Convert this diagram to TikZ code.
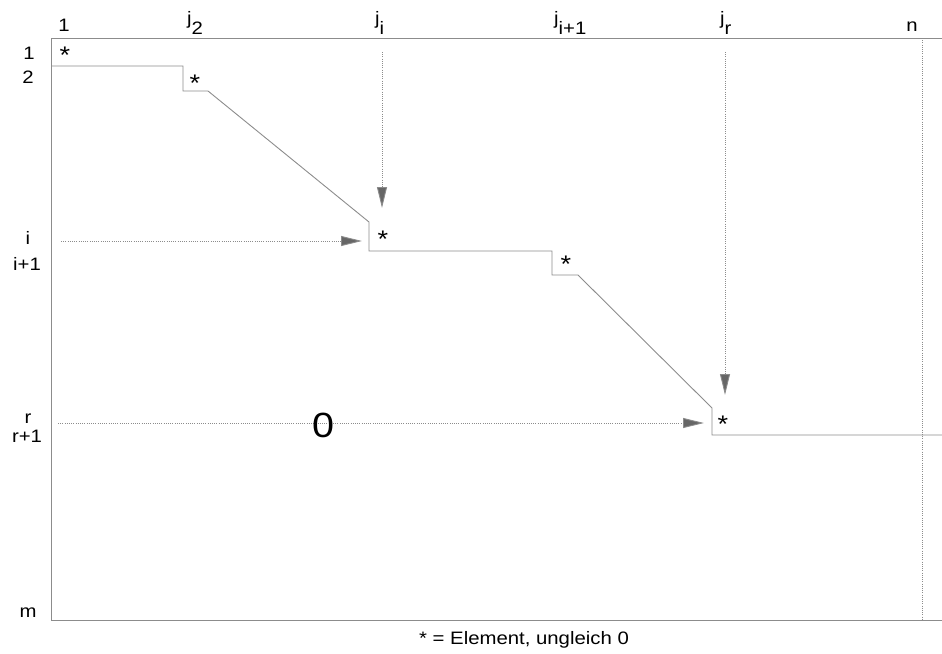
\documentclass[tikz,border=0pt]{standalone}
\usepackage{fontspec}
\setmainfont{Liberation Sans}[FakeStretch=1.13]
\usetikzlibrary{arrows.meta}
\newcommand{\idx}[2]{#1\raisebox{-9.5pt}{#2}}

\begin{document}
\begin{tikzpicture}[
  x=1pt, y=-1pt,
  frame/.style={draw=black!45, line width=0.9pt},
  dots/.style={draw=black!45, line width=0.9pt, dash pattern=on 1pt off 1.2pt},
  arr/.style={dots, -{Triangle[length=21pt,width=10pt,fill=black!60]}},
  lbl/.style={inner sep=0pt, anchor=base, font=\fontsize{18}{18}\selectfont},
  ast/.style={inner sep=0pt, anchor=base, font=\fontsize{24}{24}\selectfont}
]
  \useasboundingbox (0,0) rectangle (942,653);

  % frame of the matrix
  \coordinate (tl) at (51,38);
  \coordinate (tr) at (942,38);
  \coordinate (bl) at (51,620);
  \coordinate (br) at (942,620);
  \draw[frame] (tr) -- (tl) -- (bl) -- (br);
  \coordinate (nt) at (922,38);
  \coordinate (nb) at (922,620);
  \draw[dots] (nt) -- (nb);

  % staircase
  \coordinate (s0) at (51,66);
  \coordinate (s2) at (183,91);
  \coordinate (s3) at (208,91);
  \coordinate (s4) at (369,222);
  \coordinate (s6) at (552,251);
  \coordinate (s8) at (578,275);
  \coordinate (s9) at (712,408);
  \coordinate (s11) at (942,435);
  \draw[frame] (s0) -| (s2) -- (s3) -- (s4) |- (s6) |- (s8) -- (s9) |- (s11);

  % column labels
  \node[lbl] (c1) at (64,31) {1};
  \node[lbl,anchor=base west] (cj2)  at (187,24.5) {\idx{j}{2}};
  \node[lbl,anchor=base west] (cji)  at (375,24.5) {\idx{j}{i}};
  \node[lbl,anchor=base west] (cji1) at (554,24.5) {\idx{j}{i+1}};
  \node[lbl,anchor=base west] (cjr)  at (720,24.5) {\idx{j}{r}};
  \node[lbl] (cn) at (912,31) {n};

  % row labels
  \node[lbl] (r1)  at (29,59)  {1};
  \node[lbl] (r2)  at (28,83)  {2};
  \node[lbl] (ri)  at (28,244) {i};
  \node[lbl] (ri1) at (27,270) {i+1};
  \node[lbl] (rr)  at (28,423) {r};
  \node[lbl] (rr1) at (27,442) {r+1};
  \node[lbl] (rm)  at (28,617) {m};

  % pivots
  \node[ast] (p1) at (65,63.7)   {*};
  \node[ast] (p2) at (195,91.7)  {*};
  \node[ast] (p3) at (383,247.7) {*};
  \node[ast] (p4) at (566,272.7) {*};
  \node[ast] (p5) at (723,432.7) {*};

  % arrows to pivots i and r
  \coordinate (hi) at (61,241);
  \coordinate (hi') at (362,241);
  \coordinate (vi) at (382,52);
  \coordinate (vi') at (382,208);
  \coordinate (hr) at (58,423);
  \coordinate (hr') at (704,423);
  \coordinate (vr) at (725,52);
  \coordinate (vr') at (725,395);
  \draw[arr] (hi) -- (hi');
  \draw[arr] (vi) -- (vi');
  \draw[arr] (hr) -- (hr');
  \draw[arr] (vr) -- (vr');

  \node[lbl,font=\fontsize{35}{35}\selectfont] (zero) at (323,437) {0};
  \node[lbl] (note) at (524,644) {* = Element, ungleich 0};
\end{tikzpicture}
\end{document}
